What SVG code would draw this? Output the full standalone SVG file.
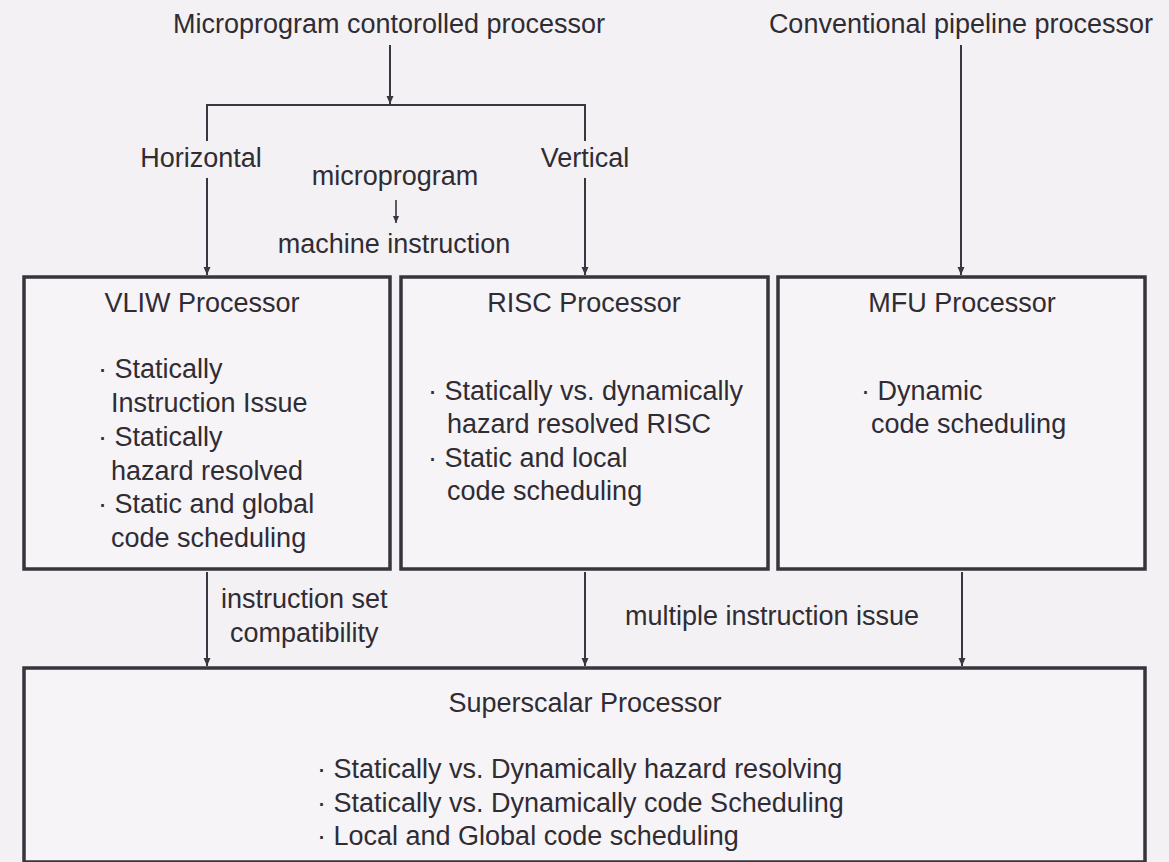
<svg xmlns="http://www.w3.org/2000/svg" width="1169" height="862" viewBox="0 0 1169 862">
  <defs>
    <marker id="arrow" viewBox="0 0 8 14" refX="8" refY="7" markerWidth="8" markerHeight="14" markerUnits="userSpaceOnUse" orient="auto">
      <path d="M0,3.5 L8,7 L0,10.5 Z" fill="#3a3540"/>
    </marker>
    <marker id="arrow-small" viewBox="0 0 8 10" refX="8" refY="5" markerWidth="7" markerHeight="9" markerUnits="userSpaceOnUse" orient="auto">
      <path d="M0,1.5 L8,5 L0,8.5 Z" fill="#3a3540"/>
    </marker>
    <style>
      text { font-family: "Liberation Sans", Arial, Helvetica, sans-serif; font-size: 27px; fill: #302c33; }
      .mid { text-anchor: middle; }
      .box { fill: #f6f4f7; stroke: #38333d; stroke-width: 3.5; }
      .wire { fill: none; stroke: #3a3540; stroke-width: 2; }
      .wire-arrow { fill: none; stroke: #3a3540; stroke-width: 2; marker-end: url(#arrow); }
    </style>
  </defs>

  <rect x="0" y="0" width="1169" height="862" fill="#f3f1f4"/>

  <!-- sources -->
  <g id="micro-source">
    <text class="mid" x="389" y="33">Microprogram contorolled processor</text>
  </g>
  <g id="pipeline-source">
    <text class="mid" x="961" y="33">Conventional pipeline processor</text>
  </g>

  <!-- connectors and their labels -->
  <g id="connectors">
    <line class="wire-arrow" x1="390" y1="45" x2="390" y2="104"/>
    <line class="wire" x1="206" y1="105" x2="586" y2="105"/>
    <line class="wire" x1="207" y1="105" x2="207" y2="141"/>
    <line class="wire-arrow" x1="207" y1="178" x2="207" y2="275"/>
    <line class="wire" x1="585" y1="105" x2="585" y2="141"/>
    <line class="wire-arrow" x1="585" y1="178" x2="585" y2="275"/>
    <line class="wire-arrow" x1="961" y1="45" x2="961" y2="275"/>

    <line class="wire-arrow" x1="207" y1="572" x2="207" y2="666"/>
    <line class="wire-arrow" x1="585" y1="572" x2="585" y2="666"/>
    <line class="wire-arrow" x1="962" y1="572" x2="962" y2="666"/>

    <line x1="396" y1="200" x2="396" y2="223" stroke="#3a3540" stroke-width="1.6" marker-end="url(#arrow-small)"/>

    <text class="mid" x="201" y="167">Horizontal</text>
    <text class="mid" x="585" y="167">Vertical</text>
    <text class="mid" x="395" y="185">microprogram</text>
    <text class="mid" x="394" y="253">machine instruction</text>
    <text x="221" y="608">instruction set</text>
    <text x="230" y="642">compatibility</text>
    <text x="625" y="625">multiple instruction issue</text>
  </g>

  <g id="vliw">
    <rect class="box" x="24" y="277" width="366" height="292"/>
    <text class="mid" x="202" y="312">VLIW Processor</text>
    <text x="98" y="378">· Statically</text>
    <text x="111" y="412">Instruction Issue</text>
    <text x="98" y="446">· Statically</text>
    <text x="111" y="480">hazard resolved</text>
    <text x="98" y="513">· Static and global</text>
    <text x="111" y="547">code scheduling</text>
  </g>

  <g id="risc">
    <rect class="box" x="401" y="277" width="367" height="292"/>
    <text class="mid" x="584" y="312">RISC Processor</text>
    <text x="428" y="400">· Statically vs. dynamically</text>
    <text x="447" y="433">hazard resolved RISC</text>
    <text x="428" y="467">· Static and local</text>
    <text x="447" y="500">code scheduling</text>
  </g>

  <g id="mfu">
    <rect class="box" x="778" y="277" width="367" height="292"/>
    <text class="mid" x="962" y="312">MFU Processor</text>
    <text x="861" y="400">· Dynamic</text>
    <text x="871" y="433">code scheduling</text>
  </g>

  <g id="superscalar">
    <rect class="box" x="24" y="668" width="1121" height="194"/>
    <text class="mid" x="585" y="712">Superscalar Processor</text>
    <text x="317" y="778">· Statically vs. Dynamically hazard resolving</text>
    <text x="317" y="812">· Statically vs. Dynamically code Scheduling</text>
    <text x="317" y="845">· Local and Global code scheduling</text>
  </g>
</svg>
